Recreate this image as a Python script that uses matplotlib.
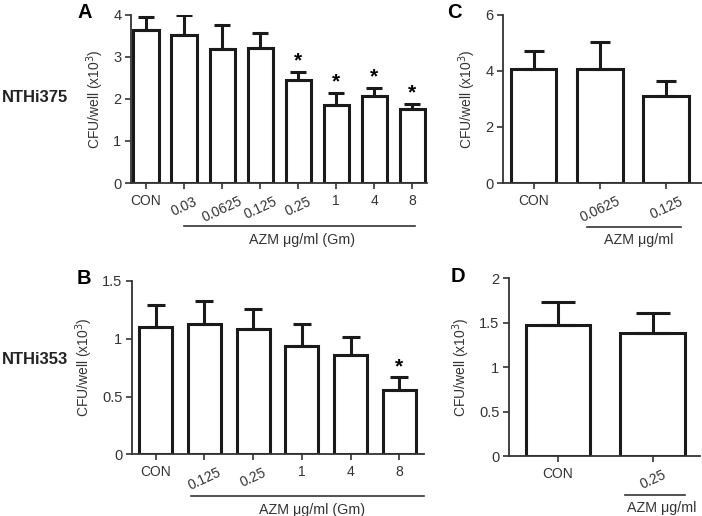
import matplotlib
matplotlib.use("Agg")
import matplotlib.pyplot as plt
from matplotlib.ticker import FuncFormatter

plt.rcParams["font.family"] = ["Liberation Sans", "DejaVu Sans"]

# panel A: NTHi375, gentamicin protection
a_labels = ["CON", "0.03", "0.0625", "0.125", "0.25", "1", "4", "8"]
a_mean = [3.64, 3.52, 3.18, 3.22, 2.46, 1.85, 2.06, 1.77]
a_err = [0.30, 0.48, 0.57, 0.35, 0.18, 0.29, 0.20, 0.11]
a_star = [False, False, False, False, True, True, True, True]

# panel B: NTHi353, gentamicin protection
b_labels = ["CON", "0.125", "0.25", "1", "4", "8"]
b_mean = [1.10, 1.13, 1.085, 0.935, 0.86, 0.56]
b_err = [0.19, 0.195, 0.175, 0.19, 0.155, 0.105]
b_star = [False, False, False, False, False, True]

# panel C: NTHi375
c_labels = ["CON", "0.0625", "0.125"]
c_mean = [4.05, 4.07, 3.09]
c_err = [0.65, 0.96, 0.55]

# panel D: NTHi353
d_labels = ["CON", "0.25"]
d_mean = [1.47, 1.385]
d_err = [0.26, 0.23]

LW = 2.2
PX = 0.72  # points per pixel at 100 dpi


def fmt(v, pos):
    return f"{v:g}"


def panel(fig, rect, labels, mean, err, stars, ylim, yticks, xlim, width,
          capsize, letter, letter_dx, under, under_y, label_x, label_y, label_text):
    ax = fig.add_axes(rect)
    x = list(range(len(labels)))
    ax.bar(x, mean, width=width, color="white", edgecolor="#1a1a1a",
           linewidth=LW, zorder=2)
    ax.errorbar(x, mean, yerr=[[0] * len(err), err], fmt="none",
                ecolor="#1a1a1a", elinewidth=LW, capsize=capsize,
                capthick=LW, zorder=3)
    for xi, m, e, s in zip(x, mean, err, stars):
        if s:
            ax.annotate("*", (xi, m + e), xytext=(0, 1), textcoords="offset points",
                        ha="center", va="bottom", fontsize=15, fontweight="bold")
    ax.set_xlim(*xlim)
    ax.set_ylim(*ylim)
    ax.set_yticks(yticks)
    ax.yaxis.set_major_formatter(FuncFormatter(fmt))
    ax.set_xticks(x)
    ax.set_xticklabels(labels)
    for lab in ax.get_xticklabels():
        if "." in lab.get_text():
            lab.set_rotation(25)
    ax.spines["top"].set_visible(False)
    ax.spines["right"].set_visible(False)
    for sp in ("left", "bottom"):
        ax.spines[sp].set_linewidth(1.3)
        ax.spines[sp].set_color("#333333")
    ax.tick_params(direction="out", length=4, width=1.2, color="#333333",
                   labelsize=10.5, labelcolor="#333333", pad=3)
    ax.tick_params(axis="x", labelsize=10, pad=4)
    ax.set_ylabel("CFU/well (x10$^3$)", fontsize=10, color="#333333", labelpad=5)
    ax.annotate(letter, (0, 1), xycoords="axes fraction",
                xytext=(-letter_dx * PX, 2 * PX), textcoords="offset points",
                fontsize=14.5, fontweight="bold", ha="right", va="center")
    trans = ax.get_xaxis_transform()
    ax.plot(under, [under_y, under_y], color="#333333", lw=1.2,
            transform=trans, clip_on=False)
    ax.text(label_x, label_y, label_text, transform=trans, ha="center",
            va="center", fontsize=10.3, color="#333333")
    return ax


fig = plt.figure(figsize=(7.02, 5.16), dpi=100)

panel(fig, [0.1866, 0.6453, 0.4217, 0.3262], a_labels, a_mean, a_err, a_star,
      (0, 4), [0, 1, 2, 3, 4], (-0.395, 7.39), 0.66, 5.8, "A", 39,
      [1.0, 7.08], -0.254, 4.1, -0.34, "AZM \u03bcg/ml (Gm)")
panel(fig, [0.7165, 0.6453, 0.282, 0.3262], c_labels, c_mean, c_err, [False] * 3,
      (0, 6), [0, 2, 4, 6], (-0.46, 2.52), 0.69, 7.2, "C", 41,
      [0.8, 2.22], -0.26, 1.59, -0.34, "AZM \u03bcg/ml")
panel(fig, [0.188, 0.1196, 0.416, 0.3359], b_labels, b_mean, b_err, b_star,
      (0, 1.5), [0, 0.5, 1, 1.5], (-0.49, 5.51), 0.68, 6.6, "B", 41,
      [0.73, 5.51], -0.239, 3.22, -0.32, "AZM \u03bcg/ml (Gm)")
panel(fig, [0.7251, 0.1157, 0.272, 0.345], d_labels, d_mean, d_err, [False] * 2,
      (0, 2), [0, 0.5, 1, 1.5, 2], (-0.517, 1.50), 0.68, 12, "D", 44,
      [0.71, 1.34], -0.217, 1.1, -0.29, "AZM \u03bcg/ml")

fig.text(2 / 702, 1 - 98 / 516, "NTHi375", fontsize=12, fontweight="bold",
         ha="left", va="center", color="#222222")
fig.text(2 / 702, 1 - 360 / 516, "NTHi353", fontsize=12, fontweight="bold",
         ha="left", va="center", color="#222222")

fig.savefig("out.png", dpi=100)
